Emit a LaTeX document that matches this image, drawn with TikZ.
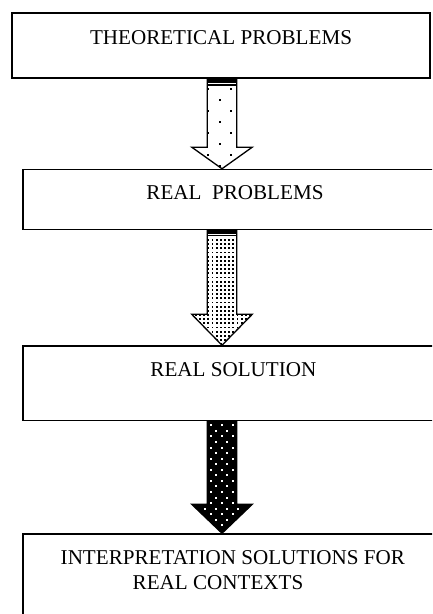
\documentclass[tikz,border=0pt]{standalone}
\usepackage{fontspec}
\setmainfont{Liberation Serif}
\usetikzlibrary{calc}
\tikzset{
  box/.style={draw, line width=1.5pt, inner sep=0pt, fill=white},
  lbl/.style={inner sep=0pt, font=\fontsize{21.1}{25}\selectfont},
  arrowline/.style={draw, line width=1.3pt, line join=miter},
}
% #1 top coordinate, #2 tip coordinate, #3 head length, #4 path options
\newcommand\arrowpathdo[4]{%
  \path[#4] ($(#1)+(-14.7,0)$) -- ($(#2)+(-14.7,-#3)$) -- ($(#2)+(-30.3,-#3)$)
    -- (#2) -- ($(#2)+(30.3,-#3)$) -- ($(#2)+(14.7,-#3)$) -- ($(#1)+(14.7,0)$) -- cycle;}
\begin{document}
\begin{tikzpicture}[x=1pt,y=-1pt]
\clip (0,0) rectangle (432,614);
\fill[white] (0,0) rectangle (432,614);

% boxes
\node[box, minimum width=418, minimum height=65] (b1) at (221,45.5) {};
\node[box, minimum width=422, minimum height=60] (b2) at (234,199.5) {};
\node[box, minimum width=422, minimum height=74.5] (b3) at (234,383.25) {};
\node[box, minimum width=422, minimum height=96] (b4) at (234,582) {};

% texts
\node[lbl, anchor=base] (t1) at (221,44) {THEORETICAL PROBLEMS};
\node[lbl, anchor=base] (t2) at (235,199) {REAL\ \ PROBLEMS};
\node[lbl, anchor=base] (t3) at (233.4,376.7) {REAL SOLUTION};
\node[lbl, anchor=base] (t4a) at (232.8,564.3) {INTERPRETATION SOLUTIONS FOR};
\node[lbl, anchor=base] (t4b) at (218,589.3) {REAL CONTEXTS};

% arrow axis
\coordinate (ax) at (222,0);
\coordinate (T1) at (ax |- b1.south);
\coordinate (P1) at (ax |- b2.north);
\coordinate (T2) at (ax |- b2.south);
\coordinate (P2) at (ax |- b3.north);
\coordinate (T3) at (ax |- b3.south);
\coordinate (P3) at (ax |- b4.north);

% arrow 1: sparse dots
\arrowpathdo{T1}{P1}{21.6}{fill=white}
\begin{scope}
  \arrowpathdo{T1}{P1}{21.6}{clip}
  \foreach \yy in {89.3,111.3,133.3,155.3} {
    \fill (207.4,\yy-0.9) rectangle ++(1.8,1.8);
    \fill (230.1,\yy-0.9) rectangle ++(1.8,1.8);
  }
  \foreach \yy in {100.3,122.3,144.3,166.3} {
    \fill (219.1,\yy-0.9) rectangle ++(1.8,1.8);
  }
  \fill ($(T1)+(-14.7,0.3)$) rectangle ($(T1)+(14.7,4.3)$);
  \fill ($(T1)+(-14.7,5.7)$) rectangle ($(T1)+(14.7,7)$);
\end{scope}
\arrowpathdo{T1}{P1}{21.6}{arrowline}

% arrow 2: dense dots
\arrowpathdo{T2}{P2}{31}{fill=white}
\begin{scope}
  \arrowpathdo{T2}{P2}{31}{clip}
  \foreach \j in {1,...,26} {
    \pgfmathsetmacro\yy{235.8+4.17*\j}
    \foreach \i in {-4,...,10} {
      \fill (208.3+4.17*\i-0.95,\yy-0.95) rectangle ++(1.9,1.9);
    }
  }
  \fill ($(T2)+(-14.7,-1.2)$) rectangle ($(T2)+(14.7,3.8)$);
  \fill ($(T2)+(-14.7,4.8)$) rectangle ($(T2)+(14.7,6.2)$);
\end{scope}
\arrowpathdo{T2}{P2}{31}{arrowline}

% arrow 3: black with white dots
\arrowpathdo{T3}{P3}{29}{fill=black}
\begin{scope}
  \arrowpathdo{T3}{P3}{29}{clip}
  \foreach \j in {0,...,19} {
    \pgfmathsetmacro\yy{425.3+5.56*\j}
    \pgfmathsetmacro\xo{210.7+5.5*mod(\j,2)}
    \foreach \i in {-2,...,4} {
      \fill[white] (\xo+11*\i-1,\yy-1) rectangle ++(2,2);
    }
  }
\end{scope}
\arrowpathdo{T3}{P3}{29}{arrowline}
\end{tikzpicture}
\end{document}
